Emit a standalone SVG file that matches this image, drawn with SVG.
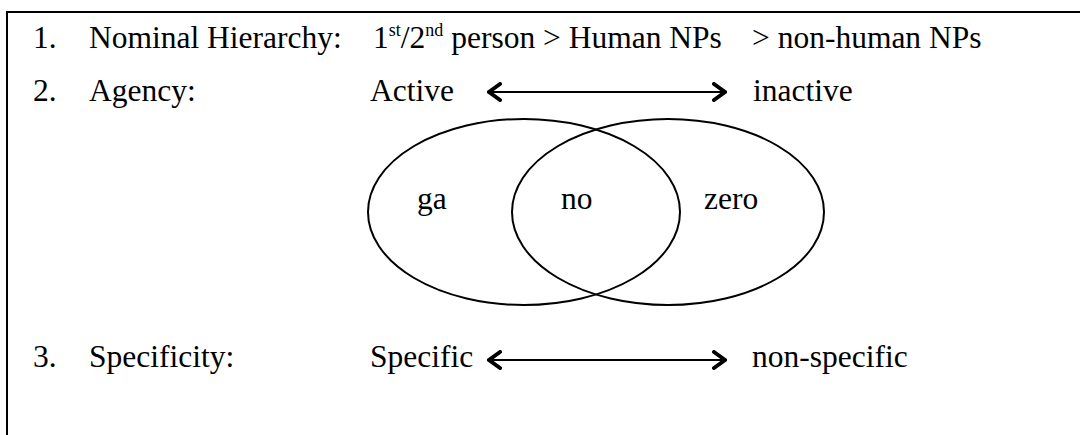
<svg xmlns="http://www.w3.org/2000/svg" width="1080" height="435" viewBox="0 0 1080 435">
  <style>
    .t { font-family: "Liberation Serif", "Times New Roman", serif; font-size: 31.5px; fill: #000; }
    .sup { font-size: 18px; }
    .frame { fill: none; stroke: #000; stroke-width: 2; }
    .set { fill: none; stroke: #000; stroke-width: 2; }
    .link { stroke: #000; stroke-width: 2; fill: none; }
  </style>
  <defs>
    <marker id="chev" viewBox="0 0 16 20" refX="14" refY="10" markerWidth="16" markerHeight="20" markerUnits="userSpaceOnUse" orient="auto-start-reverse">
      <path d="M3 2 L14 10 L3 18" fill="none" stroke="#000" stroke-width="4" stroke-linecap="round" stroke-linejoin="miter"/>
    </marker>
  </defs>
  <rect width="1080" height="435" fill="#fff"/>

  <!-- open frame: top and left edges only -->
  <path class="frame" d="M7 440 V12 H1085"/>

  <!-- row 1: nominal hierarchy -->
  <g id="row-nominal">
    <text class="t" x="33" y="48">1.</text>
    <text class="t" x="89" y="48">Nominal Hierarchy:</text>
    <text class="t" x="373" y="48">1<tspan class="sup" dy="-12">st</tspan><tspan dy="12">/2</tspan><tspan class="sup" dy="-12">nd</tspan><tspan dy="12"> person &gt; Human NPs</tspan></text>
    <text class="t" x="752" y="48">&gt; non-human NPs</text>
  </g>

  <!-- row 2: agency -->
  <g id="row-agency">
    <text class="t" x="33" y="101">2.</text>
    <text class="t" x="89" y="101">Agency:</text>
    <text class="t" x="370" y="101">Active</text>
    <text class="t" x="753" y="101">inactive</text>
  </g>

  <!-- venn diagram of case markers -->
  <g id="set-ga">
    <ellipse class="set" cx="524" cy="212" rx="156" ry="93"/>
    <text class="t" x="417" y="209">ga</text>
  </g>
  <g id="set-zero">
    <ellipse class="set" cx="668" cy="212" rx="156" ry="93"/>
    <text class="t" x="704" y="209">zero</text>
  </g>
  <g id="overlap-no">
    <text class="t" x="561" y="209">no</text>
  </g>

  <!-- row 3: specificity -->
  <g id="row-specificity">
    <text class="t" x="33" y="367">3.</text>
    <text class="t" x="89" y="367">Specificity:</text>
    <text class="t" x="370" y="367">Specific</text>
    <text class="t" x="752" y="367">non-specific</text>
  </g>

  <!-- double-headed scale arrows -->
  <g id="connectors">
    <line class="link" x1="489" y1="92" x2="725" y2="92" marker-start="url(#chev)" marker-end="url(#chev)"/>
    <line class="link" x1="489" y1="360" x2="725" y2="360" marker-start="url(#chev)" marker-end="url(#chev)"/>
  </g>
</svg>
